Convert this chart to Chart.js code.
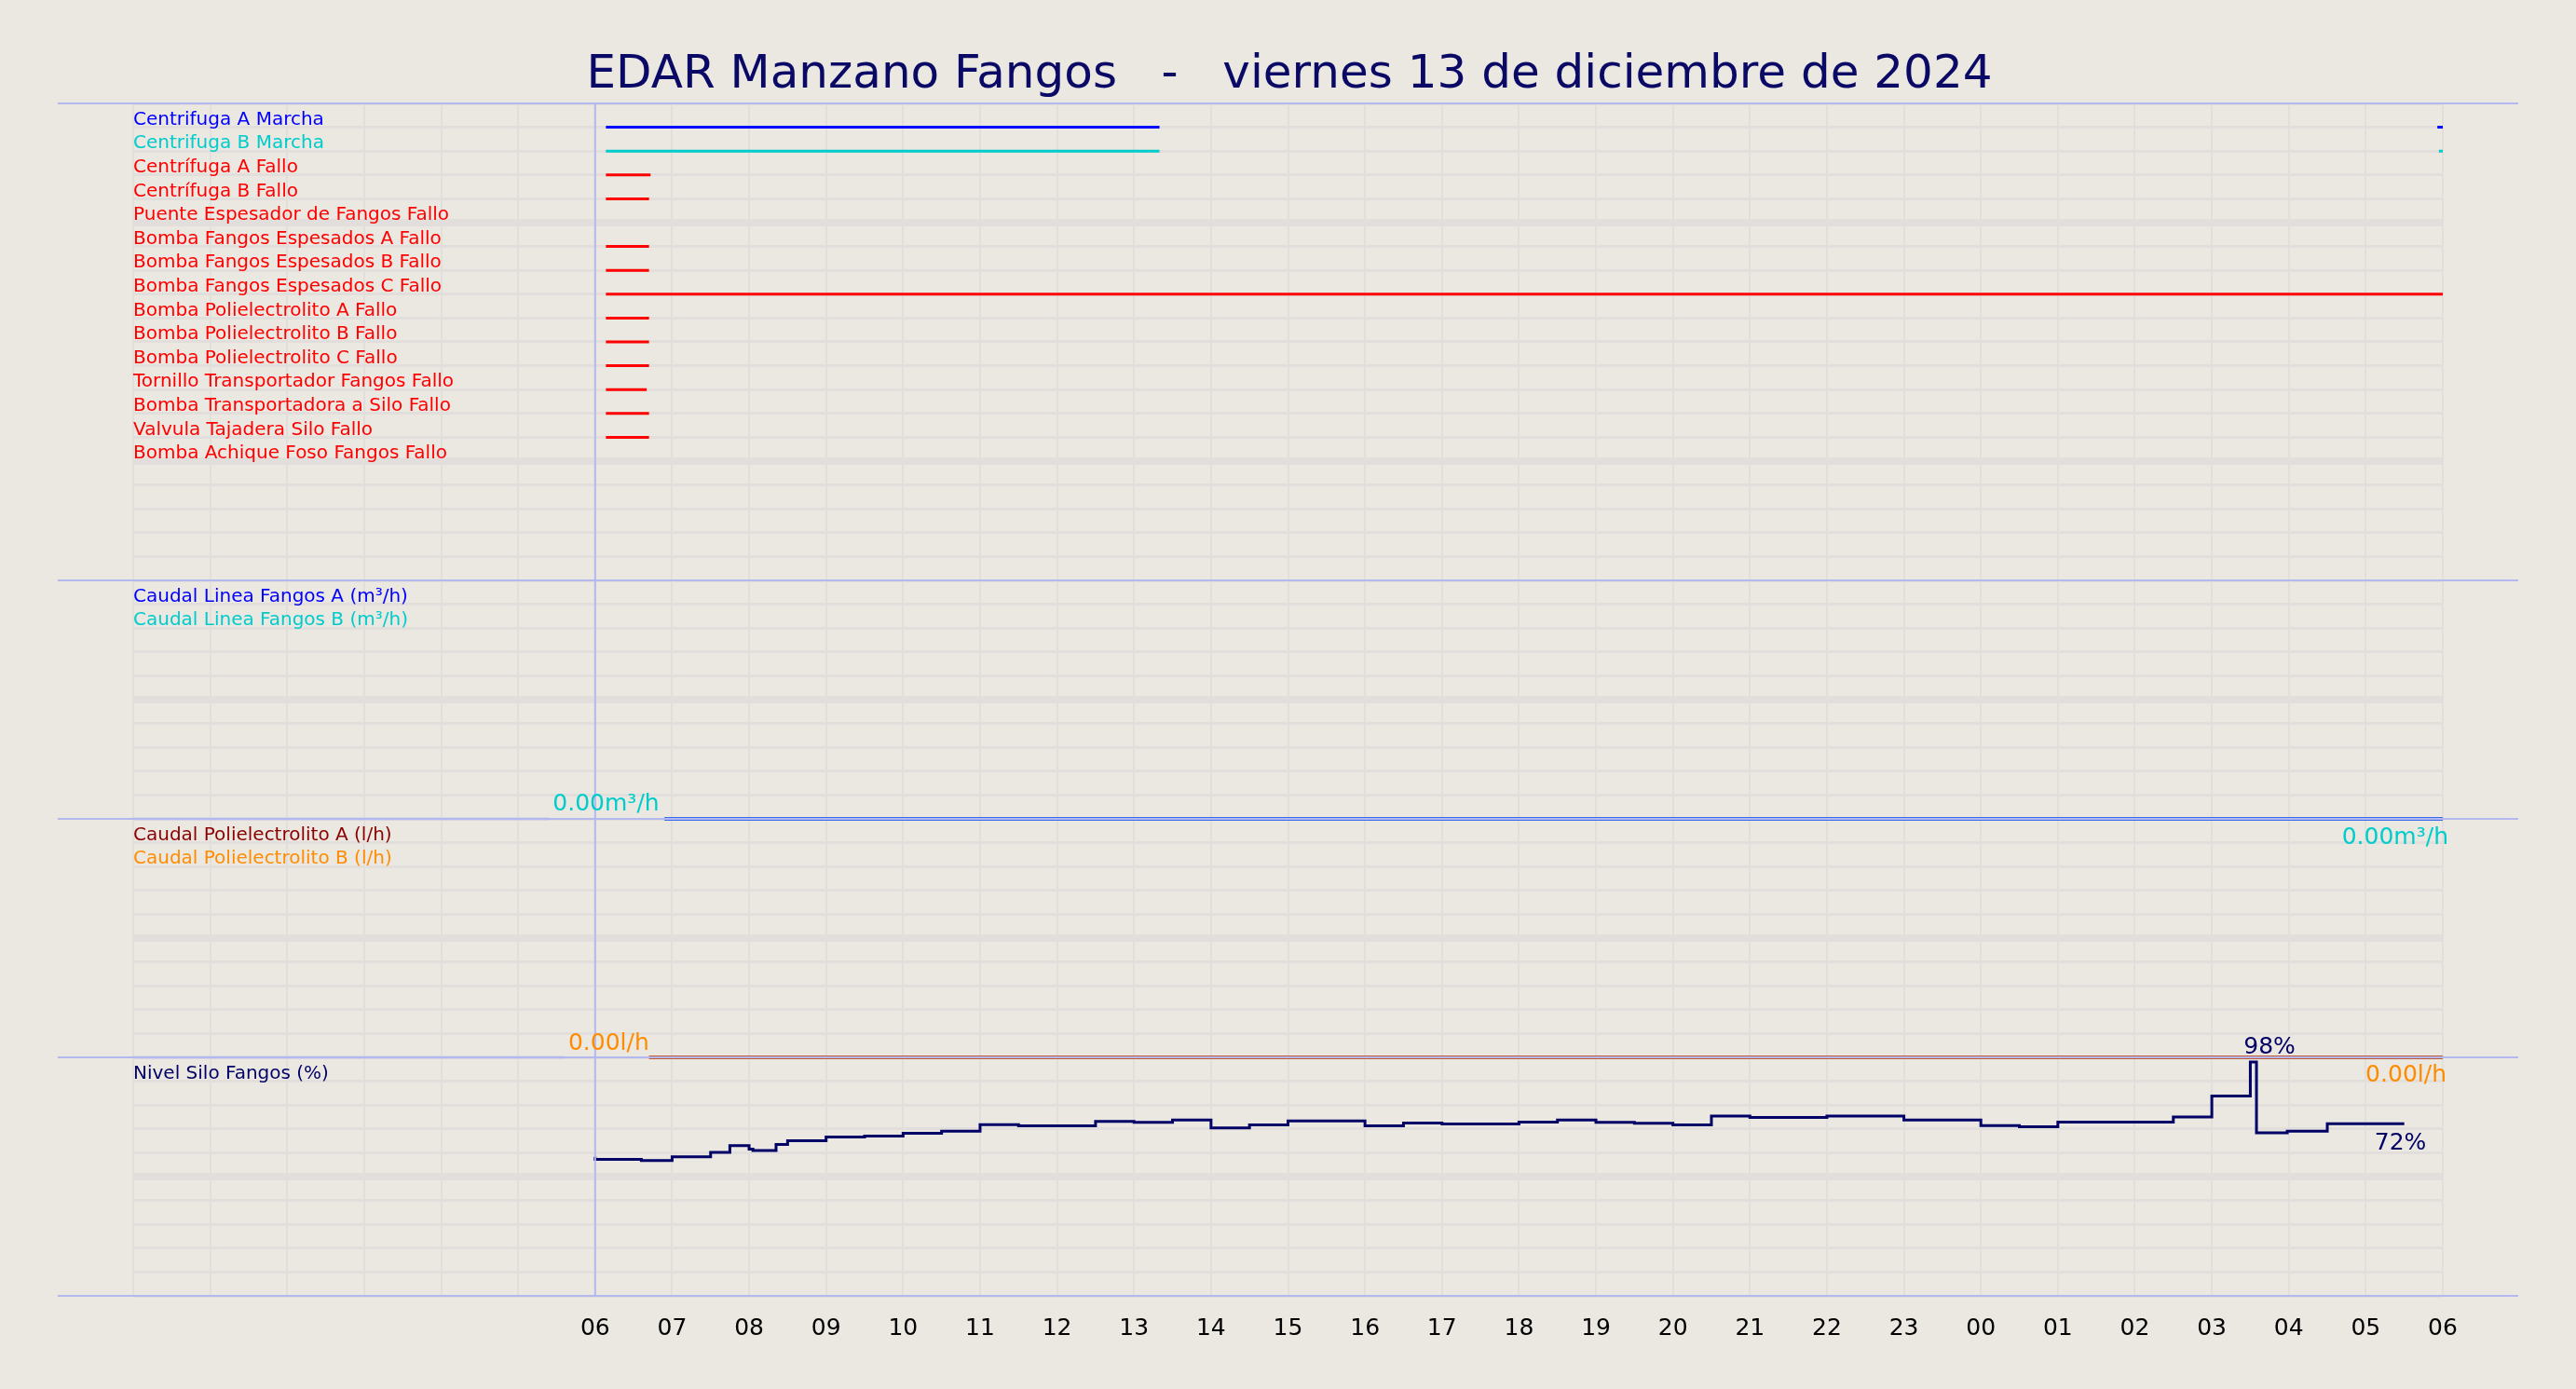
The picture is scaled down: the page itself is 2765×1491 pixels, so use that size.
<!DOCTYPE html>
<html><head><meta charset="utf-8">
<script src="https://cdn.jsdelivr.net/npm/chart.js@4"></script>
<style>html,body{margin:0;padding:0;background:#ebe7e1;}canvas{display:block;}</style>
</head><body>
<canvas id="c" width="2765" height="1491"></canvas>
<script>
const title = "EDAR Manzano Fangos   -   viernes 13 de diciembre de 2024";
const hourLabels = ["06","07","08","09","10","11","12","13","14","15","16","17","18","19","20","21","22","23","00","01","02","03","04","05","06"];
const sigNames = ["Centrifuga A Marcha","Centrifuga B Marcha","Centrífuga A Fallo","Centrífuga B Fallo","Puente Espesador de Fangos Fallo","Bomba Fangos Espesados A Fallo","Bomba Fangos Espesados B Fallo","Bomba Fangos Espesados C Fallo","Bomba Polielectrolito A Fallo","Bomba Polielectrolito B Fallo","Bomba Polielectrolito C Fallo","Tornillo Transportador Fangos Fallo","Bomba Transportadora a Silo Fallo","Valvula Tajadera Silo Fallo","Bomba Achique Foso Fangos Fallo"];
const sigColors = ["#0000ff","#00cccc","#ff0000","#ff0000","#ff0000","#ff0000","#ff0000","#ff0000","#ff0000","#ff0000","#ff0000","#ff0000","#ff0000","#ff0000","#ff0000"];
const sigOn = [[[6.14,13.33],[29.93,30]],[[6.14,13.33],[29.95,30]],[[6.14,6.72]],[[6.14,6.7]],[],[[6.14,6.7]],[[6.14,6.7]],[[6.14,30]],[[6.14,6.7]],[[6.14,6.7]],[[6.14,6.7]],[[6.14,6.67]],[[6.14,6.7]],[[6.14,6.7]],[]];
const caudalNames = ["Caudal Linea Fangos A (m³/h)","Caudal Linea Fangos B (m³/h)"];
const caudalColors = ["#0000ff","#00cccc"];
const caudalT = [6.9,30];
const caudalV = [0,0];
const poliNames = ["Caudal Polielectrolito A (l/h)","Caudal Polielectrolito B (l/h)"];
const poliColors = ["#8b0000","#ff8c00"];
const poliT = [6.7,30];
const poliV = [0,0];
const siloName = "Nivel Silo Fangos (%)";
const siloT = [6,6.6,7,7.5,7.75,8,8.05,8.35,8.5,9,9.5,10,10.5,11,11.5,12.5,13,13.5,14,14.5,15,16,16.5,17,18,18.5,19,19.5,20,20.5,21,22,23,24,24.5,25,26.5,27,27.5,27.58,27.98,28.5,29,29.5];
const siloV = [58.3,57.2,56.7,58.3,60.2,63,61.5,60.9,63.5,65,66.6,67,68.2,69,71.8,71.3,73.1,72.8,73.7,70.4,71.7,73.3,71.3,72.5,72.1,72.9,73.7,72.8,72.4,71.7,75.4,74.8,75.4,73.7,71.4,70.9,72.9,75,83.8,98,68.4,69,72.2,72.2];

// panel bases (chart y units): silo 0-1, poli 1-2, caudal 2-3, signals 3-5
const datasets = [];
sigNames.forEach((n,i)=>{
  const y = 4.9 - 0.1*i, pts=[];
  sigOn[i].forEach(iv=>{pts.push({x:iv[0],y},{x:iv[1],y},{x:iv[1],y:null});});
  datasets.push({data:pts,borderColor:sigColors[i],borderWidth:3,pointRadius:0,spanGaps:false});
});
datasets.push({data:[{x:0,y:2},{x:5.4,y:2}],borderColor:"#c9c9e3",borderWidth:3,pointRadius:0});
caudalColors.forEach(c=>datasets.push({data:caudalT.map((t,k)=>({x:t,y:2+caudalV[k]})),borderColor:c,borderWidth:3,pointRadius:0}));
datasets.push({data:[{x:0,y:1},{x:5.6,y:1}],borderColor:"#c9c9e3",borderWidth:3,pointRadius:0});
poliColors.forEach(c=>datasets.push({data:poliT.map((t,k)=>({x:t,y:1+poliV[k]})),borderColor:c,borderWidth:3,pointRadius:0}));
datasets.push({data:siloT.map((t,k)=>({x:t,y:siloV[k]/100})),borderColor:"#000066",borderWidth:3,pointRadius:0,stepped:'after'});

const deco = {
  id:'deco',
  beforeDraw(ch){const c=ch.ctx;c.save();c.fillStyle="#ebe7e1";c.fillRect(0,0,ch.width,ch.height);c.restore();},
  afterDraw(ch){
    const c=ch.ctx, xs=ch.scales.x, ys=ch.scales.y, L=ch.chartArea.left, R=ch.chartArea.right;
    c.save();
    c.fillStyle="#0a0a66";c.font="50px 'DejaVu Sans'";c.textAlign="center";c.textBaseline="middle";
    c.fillText(title,1384,81);
    c.strokeStyle="#b4b8f0";c.lineWidth=2;
    [0,1,2,3,5].forEach(v=>{const y=ys.getPixelForValue(v);c.beginPath();c.moveTo(62,y);c.lineTo(2703,y);c.stroke();});
    const x6=xs.getPixelForValue(6);c.beginPath();c.moveTo(x6,ys.getPixelForValue(5));c.lineTo(x6,ys.getPixelForValue(0));c.stroke();
    c.font="20px 'DejaVu Sans'";c.textAlign="left";c.textBaseline="bottom";
    sigNames.forEach((n,i)=>{c.fillStyle=sigColors[i];c.fillText(n,L,ys.getPixelForValue(4.9-0.1*i)+2);});
    caudalNames.forEach((n,i)=>{c.fillStyle=caudalColors[i];c.fillText(n,L,ys.getPixelForValue(2.9-0.1*i)+2);});
    poliNames.forEach((n,i)=>{c.fillStyle=poliColors[i];c.fillText(n,L,ys.getPixelForValue(1.9-0.1*i)+2);});
    c.fillStyle="#000066";c.fillText(siloName,L,ys.getPixelForValue(0.9)+2);
    c.font="25px 'DejaVu Sans'";c.textBaseline="middle";
    c.fillStyle="#00cccc";c.textAlign="left";c.fillText(caudalV[0].toFixed(2)+"m³/h",xs.getPixelForValue(5.45),ys.getPixelForValue(2.06));
    c.textAlign="right";c.fillText(caudalV[1].toFixed(2)+"m³/h",R+6,ys.getPixelForValue(1.92));
    c.fillStyle="#ff8c00";c.textAlign="left";c.fillText(poliV[0].toFixed(2)+"l/h",xs.getPixelForValue(5.65),ys.getPixelForValue(1.055));
    c.textAlign="right";c.fillText(poliV[1].toFixed(2)+"l/h",R+4,ys.getPixelForValue(0.925));
    c.fillStyle="#000066";c.textAlign="center";
    c.fillText(Math.max(...siloV).toFixed(0)+"%",xs.getPixelForValue(27.75),ys.getPixelForValue(1.04));
    c.fillText(siloV[siloV.length-1].toFixed(0)+"%",xs.getPixelForValue(29.45),ys.getPixelForValue(0.64));
    c.restore();
  }
};

new Chart(document.getElementById('c'),{
  type:'line',
  data:{datasets},
  options:{
    responsive:false,animation:false,devicePixelRatio:1,
    layout:{padding:{left:0,right:143,top:111,bottom:0}},
    plugins:{legend:{display:false},tooltip:{enabled:false},title:{display:false}},
    scales:{
      x:{type:'linear',min:0,max:30,
        afterFit:s=>{s.height=100;},
        border:{display:false},
        grid:{color:"#e2dedb",lineWidth:2,drawTicks:false},
        ticks:{stepSize:1,autoSkip:false,maxRotation:0,padding:20,color:"#000",font:{size:25,family:"'DejaVu Sans'"},
          callback:v=> v>=6 ? hourLabels[v-6] : ''}},
      y:{type:'linear',min:0,max:5,
        afterFit:s=>{s.width=143;},
        border:{display:false},
        afterBuildTicks:s=>{const t=[];for(let i=0;i<=50;i++)t.push({value:i/10});s.ticks=t;},
        grid:{drawTicks:false,color:"#e2dedb",lineWidth:ctx=>{const v=Math.round(ctx.tick.value*10);return (v%10===5)?8:3;}},
        ticks:{display:false}}
    }
  },
  plugins:[deco]
});
</script>
</body></html>
